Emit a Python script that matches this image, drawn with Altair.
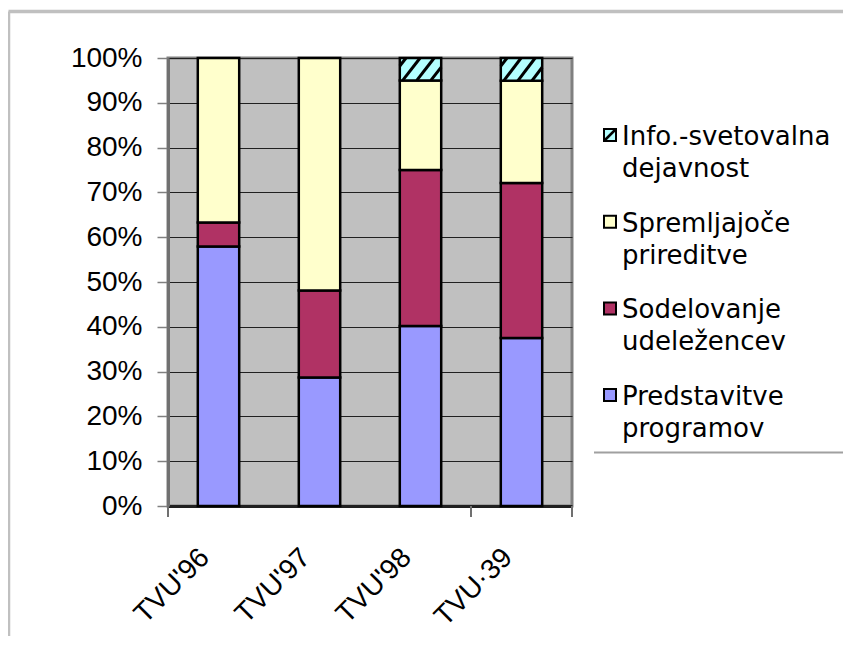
import json
import altair as alt
import pandas as pd

# ---- data (percent of each year's total) ----
years = ["TVU'96", "TVU'97", "TVU'98", "TVU·39"]
predstavitve = [57.9, 28.7, 40.2, 37.5]
sodelovanje = [5.4, 19.4, 34.8, 34.6]
spremljajoce = [36.7, 51.9, 20.0, 22.8]
info = [0.0, 0.0, 5.0, 5.1]

series_names = [
    "Predstavitve programov",
    "Sodelovanje udeležencev",
    "Spremljajoče prireditve",
    "Info.-svetovalna dejavnost",
]
series_colors = ["#9999FF", "#B03264", "#FFFFCC", "#B4FFFF"]
y_ticks = [0, 10, 20, 30, 40, 50, 60, 70, 80, 90, 100]
x_tick_marks = [0, 3, 4]

# ---- style / layout constants ----
FONT = "Liberation Sans"
LEG_FONT = "DejaVu Sans"
BAR_HALF = 0.205
HATCH_STARTS = [-0.27, 0.07, 0.41, 0.75]
HATCH_RUN = 0.42
LEG_SYM_X = 442
LEG_TEXT_X = 454
LEG_Y0 = 87
LEG_STEP = 86.7
LEG_LINE = 32
LEG_SYM_HALF = 6

series_values = [predstavitve, sodelovanje, spremljajoce, info]

rows = []
for i, yr in enumerate(years):
    base = 0.0
    for name, vals in zip(series_names, series_values):
        v = vals[i]
        if v > 0:
            rows.append({"year": yr, "series": name, "x0": i + 0.5 - BAR_HALF,
                         "x1": i + 0.5 + BAR_HALF, "y0": base, "y1": base + v})
        base += v
bars_df = pd.DataFrame(rows)

hatch_rows = []
for r in rows:
    if r["series"] != series_names[3]:
        continue
    for ub in HATCH_STARTS:
        u0, v0 = ub, 0.0
        u1, v1 = ub + HATCH_RUN, 1.0
        if u0 < 0:
            v0 = -ub / HATCH_RUN
            u0 = 0.0
        if u1 > 1:
            v1 = (1 - ub) / HATCH_RUN
            u1 = 1.0
        if v1 <= v0:
            continue
        w = r["x1"] - r["x0"]
        h = r["y1"] - r["y0"]
        hatch_rows.append({"hx0": r["x0"] + u0 * w, "hx1": r["x0"] + u1 * w,
                           "hy0": r["y0"] + v0 * h, "hy1": r["y0"] + v1 * h})
hatch_df = pd.DataFrame(hatch_rows)

legend_order = series_names[::-1]
legend_colors = series_colors[::-1]

# legend tables
leg_sym, leg_txt, leg_diag = [], [], []
for k, name in enumerate(legend_order):
    base_y = LEG_Y0 + k * LEG_STEP
    leg_sym.append({"series": name, "lx": LEG_SYM_X, "ly": base_y - 10})
    for j, part in enumerate(name.split(" ")):
        leg_txt.append({"txt": part, "lx": LEG_TEXT_X, "ly": base_y + j * LEG_LINE})
    if name == series_names[3]:
        leg_diag.append({"dx0": LEG_SYM_X - LEG_SYM_HALF, "dy0": base_y - 10 + LEG_SYM_HALF,
                         "dx1": LEG_SYM_X + LEG_SYM_HALF, "dy1": base_y - 10 - LEG_SYM_HALF})
leg_sym_df = pd.DataFrame(leg_sym)
leg_txt_df = pd.DataFrame(leg_txt)
leg_diag_df = pd.DataFrame(leg_diag)

x_label_expr = json.dumps(years, ensure_ascii=False) + "[floor(datum.value)]"

x_scale = alt.Scale(domain=[0, 4], nice=False, zero=False)
y_scale = alt.Scale(domain=[0, 100], nice=False)
color_scale = alt.Scale(domain=legend_order, range=legend_colors)

bars = alt.Chart(bars_df).mark_rect(stroke="black", strokeWidth=2.5).encode(
    x=alt.X("x0:Q", scale=x_scale, title=None,
            axis=alt.Axis(values=[0.5, 1.5, 2.5, 3.5], labelExpr=x_label_expr,
                          ticks=False, grid=False, labelAngle=-45, labelAlign="right",
                          labelBaseline="middle", labelPadding=47, labelOffset=-14,
                          labelFont=FONT, labelFontSize=28, labelColor="black",
                          domainColor="#202020", domainWidth=3)),
    x2="x1:Q",
    y=alt.Y("y0:Q", scale=y_scale, title=None,
            axis=alt.Axis(values=y_ticks, labelExpr="datum.value + '%'",
                          grid=True, gridColor="#202020", gridWidth=1,
                          tickColor="#808080", tickSize=11, tickWidth=1.5,
                          labelPadding=15, labelFont=FONT, labelFontSize=28,
                          labelColor="black", domainColor="#707070", domainWidth=3)),
    y2="y1:Q",
    color=alt.Color("series:N", scale=color_scale, legend=None),
)

hatch = alt.Chart(hatch_df).mark_rule(color="black", strokeWidth=3).encode(
    x=alt.X("hx0:Q", scale=x_scale), x2="hx1:Q",
    y=alt.Y("hy0:Q", scale=y_scale), y2="hy1:Q",
)

ticks = alt.Chart(pd.DataFrame({"t": x_tick_marks})).mark_rule(
    color="#707070", strokeWidth=2).encode(
    x=alt.X("t:Q", scale=x_scale), y=alt.value(448), y2=alt.value(459))

leg_symbols = alt.Chart(leg_sym_df).mark_square(
    size=144, stroke="black", strokeWidth=2, opacity=1, fillOpacity=1).encode(
    x=alt.X("lx:Q", scale=None), y=alt.Y("ly:Q", scale=None),
    color=alt.Color("series:N", scale=color_scale, legend=None),
)
leg_diag_line = alt.Chart(leg_diag_df).mark_rule(color="black", strokeWidth=2.5).encode(
    x=alt.X("dx0:Q", scale=None), x2="dx1:Q",
    y=alt.Y("dy0:Q", scale=None), y2="dy1:Q",
)
leg_text = alt.Chart(leg_txt_df).mark_text(
    align="left", baseline="alphabetic", font=LEG_FONT, fontSize=26, color="black").encode(
    x=alt.X("lx:Q", scale=None), y=alt.Y("ly:Q", scale=None), text="txt:N",
)

one = pd.DataFrame({"a": [0]})
border_left = alt.Chart(one).mark_rule(color="#C0C0C0", strokeWidth=3.5).encode(
    x=alt.value(-159.5), y=alt.value(-46.5), y2=alt.value(600))
border_top = alt.Chart(one).mark_rule(color="#C0C0C0", strokeWidth=3.5).encode(
    x=alt.value(-159.5), x2=alt.value(700), y=alt.value(-46.5))
legend_line = alt.Chart(one).mark_rule(color="#A0A0A0", strokeWidth=2).encode(
    x=alt.value(426), x2=alt.value(700), y=alt.value(394.5))

chart = alt.layer(
    bars, hatch, ticks, leg_symbols, leg_diag_line, leg_text,
    border_left, border_top, legend_line,
).properties(
    width=404, height=448, autosize="none",
    padding={"left": 160, "top": 50, "right": 271, "bottom": 130},
).configure_view(fill="#C0C0C0", stroke="#808080", strokeWidth=3)

chart.save("out.html", embed_options={"renderer": "svg", "actions": False})
